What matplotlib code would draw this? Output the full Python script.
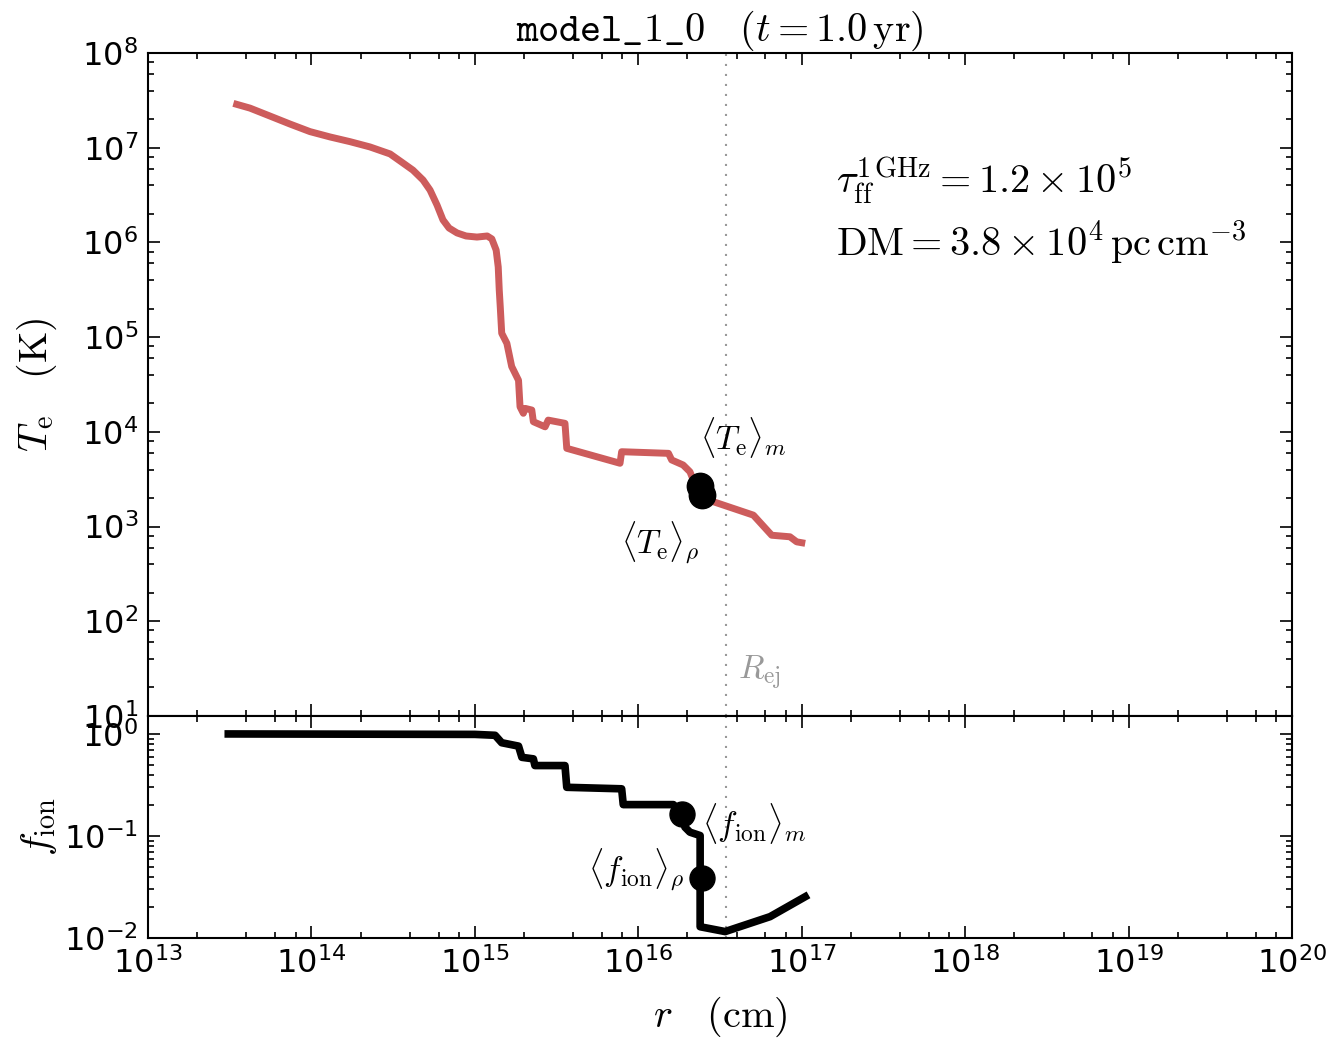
import numpy as np
import matplotlib
matplotlib.use("Agg")
from matplotlib import pyplot as plt
from matplotlib.ticker import LogLocator

plt.rcParams['mathtext.fontset'] = 'cm'
plt.rcParams['font.family'] = ['DejaVu Sans']
plt.rcParams['axes.unicode_minus'] = False

# electron temperature profile
r_te = [3.33e13, 4.21e13, 5.58e13, 7.39e13, 9.8e13, 1.30e14, 1.72e14, 2.28e14,
        3.03e14, 3.63e14, 4.18e14, 4.82e14, 5.32e14, 5.87e14, 6.38e14, 6.95e14,
        7.78e14, 8.83e14, 1.03e15, 1.19e15, 1.27e15, 1.35e15, 1.39e15, 1.41e15,
        1.43e15, 1.46e15, 1.57e15, 1.68e15, 1.85e15, 1.89e15, 1.98e15, 2.03e15,
        2.23e15, 2.28e15, 2.69e15, 2.81e15, 3.56e15, 3.65e15, 7.73e15, 7.91e15,
        1.53e16, 1.60e16, 1.88e16, 2.07e16, 2.17e16, 2.39e16, 2.88e16, 5.06e16,
        6.55e16, 8.47e16, 9.31e16, 1.05e17]
T_e = [2.94e7, 2.62e7, 2.16e7, 1.78e7, 1.48e7, 1.30e7, 1.16e7, 1.02e7,
       8.6e6, 6.9e6, 5.8e6, 4.56e6, 3.57e6, 2.48e6, 1.73e6, 1.42e6,
       1.26e6, 1.17e6, 1.14e6, 1.17e6, 1.09e6, 8.3e5, 5.5e5, 3.15e5,
       2.1e5, 1.10e5, 8.6e4, 4.9e4, 3.5e4, 1.84e4, 1.57e4, 1.77e4,
       1.70e4, 1.28e4, 1.13e4, 1.33e4, 1.23e4, 6.7e3, 4.66e3, 6.17e3,
       5.93e3, 5.05e3, 4.47e3, 3.79e3, 3.10e3, 2.40e3, 1.83e3, 1.32e3,
       8.1e2, 7.8e2, 6.9e2, 6.65e2]

# ionisation fraction profile
r_fion = [3.1e13, 1.0e15, 1.33e15, 1.46e15, 1.85e15, 1.94e15, 2.28e15, 2.33e15,
          3.56e15, 3.65e15, 7.91e15, 8.09e15, 1.64e16, 1.85e16, 1.93e16, 2.07e16,
          2.39e16, 2.39e16, 3.40e16, 6.40e16, 1.05e17]
f_ion = [1.0, 0.99, 0.97, 0.82, 0.76, 0.59, 0.57, 0.49,
         0.49, 0.30, 0.29, 0.203, 0.203, 0.165, 0.122, 0.109,
         0.101, 0.0129, 0.01157, 0.0162, 0.0254]

# averages
r_Te_m, Te_m = 2.39e16, 2680.
r_Te_rho, Te_rho = 2.45e16, 2150.
r_f_m, f_m = 1.85e16, 0.165
r_f_rho, f_rho = 2.44e16, 0.0384

R_ej = 3.43e16
tau_ff = r'$\tau_{\rm ff}^{1\,{\rm GHz}} = 1.2\times10^{5}$'
DM = r'${\rm DM} = 3.8\times10^{4}\,{\rm pc\,cm^{-3}}$'

fs = 23
big = 29
fig = plt.figure(figsize=(13.32, 10.44), dpi=100)
ax1 = fig.add_axes([0.1111, 0.3142, 0.8589, 0.6350])
ax2 = fig.add_axes([0.1111, 0.1015, 0.8589, 0.2127], sharex=ax1)

for ax in (ax1, ax2):
    ax.set_xscale('log')
    ax.set_yscale('log')
    ax.tick_params(which='both', direction='in', top=True, right=True,
                   labelsize=fs, width=1.2, pad=7)
    ax.tick_params(which='major', length=8.5)
    ax.tick_params(which='minor', length=4.5)
    for s in ax.spines.values():
        s.set_linewidth(1.5)
    ax.axvline(R_ej, color='0.6', ls=(0, (1, 3.8)), lw=1.5)

ax1.xaxis.set_minor_locator(LogLocator(base=10, subs=(2, 4, 6, 8)))
ax1.yaxis.set_minor_locator(LogLocator(base=10, subs=(2, 4, 6, 8)))
ax1.tick_params(labelbottom=False)

ax1.plot(r_te, T_e, color='#cd5c5c', lw=5, solid_capstyle='butt')
ax1.plot([r_Te_m], [Te_m], 'ko', ms=19)
ax1.plot([r_Te_rho], [Te_rho], 'ko', ms=19)
ax1.annotate(r'$\langle T_{\rm e}\rangle_m$', (r_Te_m, Te_m), xytext=(31, 35),
             textcoords='offset points', ha='center', va='center', fontsize=24)
ax1.annotate(r'$\langle T_{\rm e}\rangle_\rho$', (r_Te_rho, Te_rho), xytext=(-30, -34),
             textcoords='offset points', ha='center', va='center', fontsize=24)
ax1.annotate(r'$R_{\rm ej}$', (R_ej, 10**1.46), xytext=(9, 0),
             textcoords='offset points', ha='left', va='center', fontsize=24,
             color='0.6')
ax1.text(0.601, 0.808, tau_ff, transform=ax1.transAxes, fontsize=big, va='center')
ax1.text(0.601, 0.713, DM, transform=ax1.transAxes, fontsize=big, va='center')
ax1.set_xlim(1e13, 1e20)
ax1.set_ylim(1e1, 1e8)
ax1.set_ylabel(r'$T_{\rm e}\quad({\rm K})$', fontsize=big)
ax1.set_title(r'$\mathtt{model\_1\_0}\quad(t=1.0\,{\rm yr})$', fontsize=big, pad=4)

ax2.plot(r_fion, f_ion, color='k', lw=5.5)
ax2.plot([r_f_m], [f_m], 'ko', ms=18)
ax2.plot([r_f_rho], [f_rho], 'ko', ms=18)
ax2.annotate(r'$\langle f_{\rm ion}\rangle_m$', (r_f_m, f_m), xytext=(52, -7),
             textcoords='offset points', ha='center', va='center', fontsize=24)
ax2.annotate(r'$\langle f_{\rm ion}\rangle_\rho$', (r_f_rho, f_rho), xytext=(-47, 7),
             textcoords='offset points', ha='center', va='center', fontsize=24)
ax2.set_ylim(1e-2, 1.5)
ax2.set_xlabel(r'$r\quad({\rm cm})$', fontsize=big, labelpad=10)
ax2.set_ylabel(r'$f_{\rm ion}$', fontsize=big)

ax1.yaxis.set_label_coords(-0.078, 0.5)
ax2.yaxis.set_label_coords(-0.078, 0.5)

fig.savefig('out.png', dpi=100)
